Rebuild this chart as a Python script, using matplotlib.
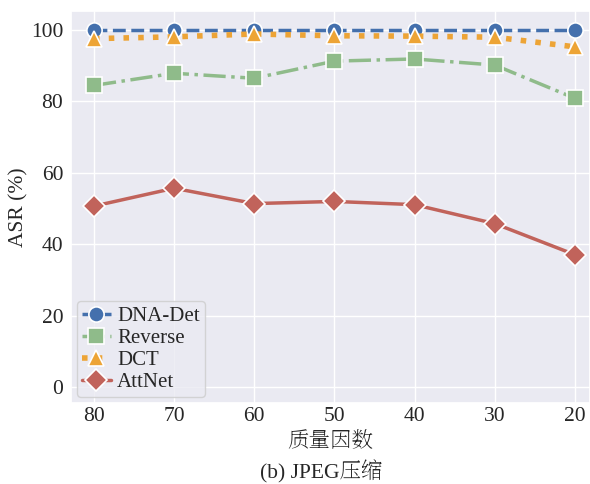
import numpy as np
import matplotlib
matplotlib.use("Agg")
import matplotlib.pyplot as plt
import seaborn as sns

quality = ["80", "70", "60", "50", "40", "30", "20"]
dna_det = [99.9, 99.9, 99.9, 99.9, 99.9, 99.9, 99.9]
reverse = [84.5, 87.9, 86.5, 91.3, 91.9, 90.2, 80.9]
dct = [97.6, 98.1, 98.9, 98.4, 98.3, 98.0, 95.3]
attnet = [50.7, 55.7, 51.4, 52.0, 51.1, 45.8, 37.1]

sns.set_theme(style="darkgrid")
# serif latin font first, CJK serif as fallback for the chinese labels
plt.rcParams["font.family"] = ["Liberation Serif", "Noto Serif SC"]

fig, ax = plt.subplots(figsize=(5.9, 4.84), dpi=100)
x = np.arange(len(quality))

ax.plot(x, dna_det, ls="--", marker="o", color="#4470ad", lw=2.5, ms=11,
        mec="white", mew=1.2, label="DNA-Det")
ax.plot(x, reverse, ls="-.", marker="s", color="#8fbb8a", lw=2.5, ms=11,
        mec="white", mew=1.2, label="Reverse")
ax.plot(x, dct, ls=":", marker="^", color="#eda436", lw=4, ms=11,
        mec="white", mew=1.2, label="DCT")
ax.plot(x, attnet, ls="-", marker="D", color="#c1635b", lw=2.5, ms=11,
        mec="white", mew=1.2, label="AttNet")

ax.set_xticks(x)
ax.set_xticklabels(quality)
ax.set_xlim(-0.29, 6.19)
ax.set_ylim(-4.5, 105.3)
ax.set_yticks([0, 20, 40, 60, 80, 100])
ax.tick_params(axis="x", labelsize=15.5, length=0, pad=3)
ax.tick_params(axis="y", labelsize=15.5, length=0, pad=5.5)
ax.set_xlabel("质量因数", fontsize=15.5, labelpad=4)
ax.set_ylabel("ASR (%)", fontsize=15.5, labelpad=2)
ax.legend(loc="lower left", fontsize=15, handlelength=1.4, handletextpad=0.3,
          borderpad=0.25, labelspacing=0.12, borderaxespad=0.28, frameon=True)

fig.subplots_adjust(left=0.12, right=1.0, top=0.977, bottom=0.167)
fig.text(0.545, 0.012, "(b) JPEG压缩", ha="center", va="baseline", fontsize=15.5)
plt.savefig("out.png")
